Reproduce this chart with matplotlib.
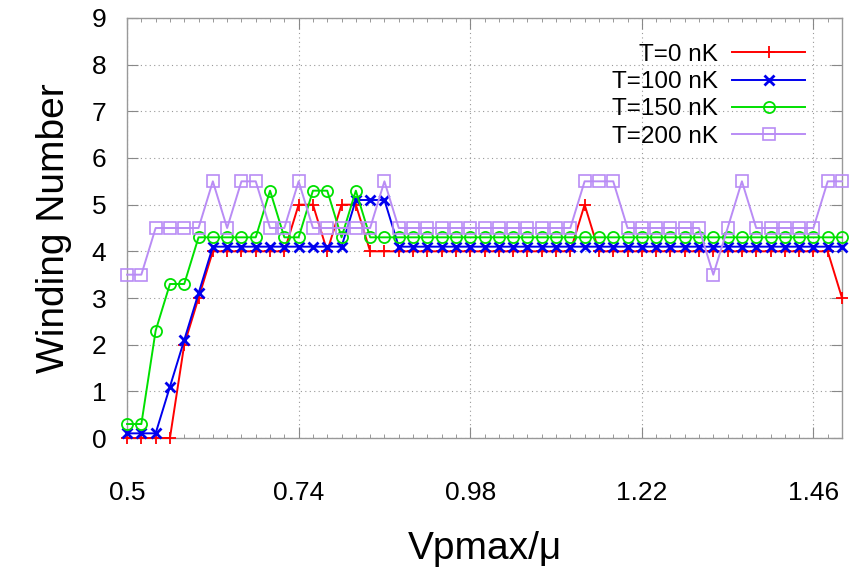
import numpy as np
import matplotlib
matplotlib.use("Agg")
from matplotlib import pyplot as plt
from matplotlib.ticker import MultipleLocator

plt.rcParams['font.family'] = ['Liberation Sans', 'DejaVu Sans']

# Vpmax/mu sampled every 0.02 from 0.5 to 1.5
vp = np.round(np.arange(51) * 0.02 + 0.5, 2)

w_t0 = [0, 0, 0, 0, 2, 3, 4, 4, 4, 4, 4, 4, 5, 5, 4, 5, 5, 4, 4, 4,
        4, 4, 4, 4, 4, 4, 4, 4, 4, 4, 4, 4, 5, 4, 4, 4, 4, 4, 4, 4,
        4, 4, 4, 4, 4, 4, 4, 4, 4, 4, 3]
w_t100 = [0.1, 0.1, 0.1, 1.1, 2.1, 3.1, 4.1, 4.1, 4.1, 4.1, 4.1, 4.1, 4.1, 4.1, 4.1, 4.1, 5.1, 5.1, 5.1, 4.1,
          4.1, 4.1, 4.1, 4.1, 4.1, 4.1, 4.1, 4.1, 4.1, 4.1, 4.1, 4.1, 4.1, 4.1, 4.1, 4.1, 4.1, 4.1, 4.1, 4.1,
          4.1, 4.1, 4.1, 4.1, 4.1, 4.1, 4.1, 4.1, 4.1, 4.1, 4.1]
w_t150 = [0.3, 0.3, 2.3, 3.3, 3.3, 4.3, 4.3, 4.3, 4.3, 4.3, 5.3, 4.3, 4.3, 5.3, 5.3, 4.3, 5.3, 4.3, 4.3, 4.3,
          4.3, 4.3, 4.3, 4.3, 4.3, 4.3, 4.3, 4.3, 4.3, 4.3, 4.3, 4.3, 4.3, 4.3, 4.3, 4.3, 4.3, 4.3, 4.3, 4.3,
          4.3, 4.3, 4.3, 4.3, 4.3, 4.3, 4.3, 4.3, 4.3, 4.3, 4.3]
w_t200 = [3.5, 3.5, 4.5, 4.5, 4.5, 4.5, 5.5, 4.5, 5.5, 5.5, 4.5, 4.5, 5.5, 4.5, 4.5, 4.5, 4.5, 4.5, 5.5, 4.5,
          4.5, 4.5, 4.5, 4.5, 4.5, 4.5, 4.5, 4.5, 4.5, 4.5, 4.5, 4.5, 5.5, 5.5, 5.5, 4.5, 4.5, 4.5, 4.5, 4.5,
          4.5, 3.5, 4.5, 5.5, 4.5, 4.5, 4.5, 4.5, 4.5, 5.5, 5.5]

labels = ["T=0 nK", "T=100 nK", "T=150 nK", "T=200 nK"]
series = [w_t0, w_t100, w_t150, w_t200]
styles = [
    dict(color="#ff0000", marker="+", ms=9, mew=1.3),
    dict(color="#0000ee", marker="x", ms=7, mew=2.0),
    dict(color="#00e000", marker="o", ms=8, mew=1.3, mfc="none"),
    dict(color="#b98cf5", marker="s", ms=9, mew=1.2, mfc="none"),
]

fig = plt.figure(figsize=(8.66, 5.71), dpi=100)
ax = fig.add_axes([0.1467, 0.2329, 0.9723 - 0.1467, 0.9685 - 0.2329])

for y, lab, st in zip(series, labels, styles):
    ax.plot(vp, y, lw=1.4, label=lab, clip_on=False, zorder=3, **st)

ax.set_xlim(0.5, 1.5)
ax.set_ylim(0, 9)
ax.set_xticks([0.5, 0.74, 0.98, 1.22, 1.46])
ax.set_xticklabels(["0.5", "0.74", "0.98", "1.22", "1.46"])
ax.set_yticks(range(10))
ax.xaxis.set_minor_locator(MultipleLocator(0.02))
ax.grid(True, which="major", color="#999999", ls=(0, (1, 3)), lw=0.8)
ax.tick_params(which="both", direction="in", top=True, right=True, colors="#888888",
               labelcolor="black")
ax.tick_params(axis="x", which="major", length=8, pad=31, labelsize=19)
ax.tick_params(axis="y", which="major", length=8, pad=15, labelsize=19)
ax.tick_params(which="minor", length=3)
for s in ax.spines.values():
    s.set_color("#999999")
    s.set_linewidth(1.0)

ax.set_ylabel("Winding Number", fontsize=28, labelpad=14)
ax.set_xlabel("Vpmax/\u03bc", fontsize=28, labelpad=19)

ax.legend(loc="upper right", bbox_to_anchor=(0.962, 0.962), frameon=False,
          markerfirst=False, numpoints=1, fontsize=17.5, handlelength=3.0,
          handletextpad=0.6, labelspacing=0.22, borderaxespad=0)

fig.savefig("out.png", dpi=100)
